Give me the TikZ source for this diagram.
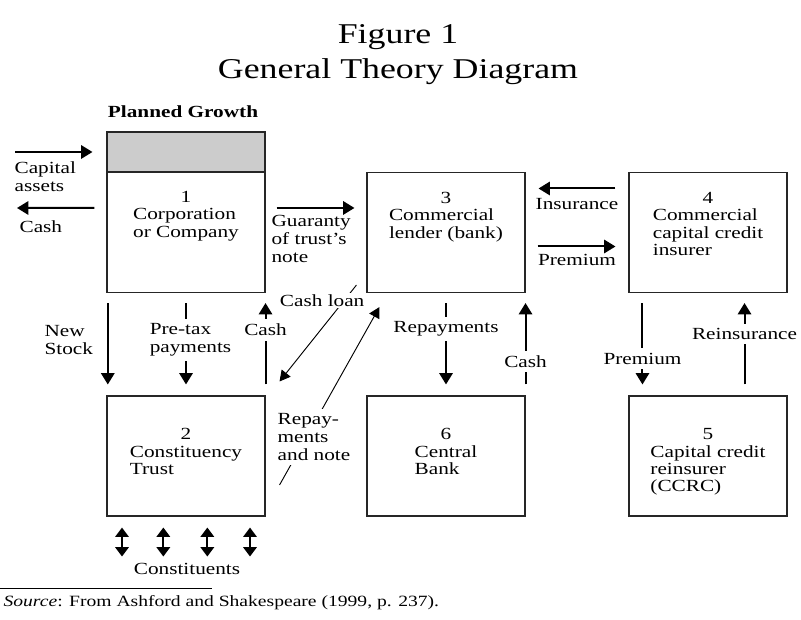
\documentclass[tikz,border=0pt]{standalone}
\usepackage{fontspec}
\setmainfont{Liberation Serif}[FakeStretch=1.25]
\usetikzlibrary{arrows.meta}

\newcommand{\boxlines}[1]{\begin{tabular}[t]{@{}l@{}}#1\end{tabular}}

\begin{document}
\begin{tikzpicture}[x=0.75pt,y=-0.75pt,
    box/.style={draw=black!85,line width=0.8pt,minimum width=118.5pt,
      minimum height=90pt,inner sep=0pt},
    txt/.style={font=\fontsize{12.75}{13}\selectfont,inner sep=0pt,align=center},
    lbl/.style={font=\fontsize{12.75}{13.5}\selectfont,inner sep=1pt,align=left},
    cover/.style={lbl,fill=white,inner xsep=1pt,inner ysep=3.5pt},
    flow/.style={-{Triangle[length=8.5pt,width=10pt]},line width=1.5pt},
    loan/.style={-{Triangle[length=8pt,width=8.5pt]},line width=0.7pt},
    both/.style={{Triangle[length=7pt,width=10pt]}-{Triangle[length=7pt,width=10pt]},
      line width=1.5pt}]
  \useasboundingbox (0,0) rectangle (801,620);

  \node[align=center,inner sep=0pt,font=\fontsize{21.5}{26.25}\selectfont,anchor=north]
    (title) at (398,24.5) {Figure 1\\General Theory Diagram};

  \node[box,fill=black!20,minimum height=30pt] (g) at (186,152) {};
  \node[lbl,anchor=base] (pg) at (183,118) {\textbf{Planned Growth}};

  \node[box] (1) at (186,232.5) {};
  \node[box] (3) at (446,232.5) {};
  \node[box] (4) at (708,232.5) {};
  \node[box] (2) at (186,456) {};
  \node[box] (6) at (446,456) {};
  \node[box] (5) at (708,456) {};

  \node[txt,anchor=north] (t1) at ([yshift=-14.25pt]1.north) {1\\\boxlines{Corporation\\or Company}};
  \node[txt,anchor=north] (t3) at ([yshift=-15pt]3.north) {3\\\boxlines{Commercial\\lender (bank)}};
  \node[txt,anchor=north] (t4) at ([yshift=-15pt]4.north) {4\\\boxlines{Commercial\\capital credit\\insurer}};
  \node[txt,anchor=north] (t2) at ([yshift=-24.75pt]2.north) {2\\\boxlines{Constituency\\Trust}};
  \node[txt,anchor=north] (t6) at ([yshift=-24.75pt]6.north) {6\\\boxlines{Central\\Bank}};
  \node[txt,anchor=north] (t5) at ([yshift=-24.75pt]5.north) {5\\\boxlines{Capital credit\\reinsurer\\(CCRC)}};

  % outside -> 1
  \coordinate (ca) at (15,152);
  \coordinate (cc) at (17,208);
  \draw[flow,shorten >=10.5pt] (ca) -- (g);
  \node[lbl,anchor=north west] (cal) at (13,160.5) {Capital\\assets};
  \draw[flow,shorten <=9pt] ([yshift=18.4pt]1.west) -- (cc);
  \node[lbl,anchor=north west] (ccl) at (18,219) {Cash};

  % 1 -> 3
  \draw[flow,shorten <=8.25pt,shorten >=9pt] ([yshift=18.4pt]1.east) -- ([yshift=18.4pt]3.west);
  \node[lbl,anchor=north west] (gl) at (270,213.5) {Guaranty\\of trust's\\note};

  % 3 <-> 4
  \draw[flow,shorten <=9.75pt,shorten >=9.75pt] ([yshift=33pt]4.west) -- ([yshift=33pt]3.east)
    node[lbl,midway,below=6pt] (ins) {Insurance};
  \draw[flow,shorten <=9pt,shorten >=9.75pt] ([yshift=-10.5pt]3.east) -- ([yshift=-10.5pt]4.west)
    node[lbl,midway,below=3.75pt] (pre) {Premium};

  % 1 <-> 2
  \draw[flow,shorten <=7.5pt,shorten >=8.25pt] ([xshift=1pt]1.south west) -- ([xshift=1pt]2.north west);
  \node[lbl,anchor=north west] (ns) at (43,324) {New\\Stock};
  \draw[flow,shorten <=7.5pt,shorten >=8.25pt] (1.south) -- (2.north)
    node[cover,pos=0.46,xshift=3.4pt] (ptx) {Pre-tax\\payments};
  \draw[flow,shorten <=8.25pt,shorten >=7.5pt] (2.north east) -- (1.south east)
    node[cover,pos=0.64] (c21) {Cash};

  % 2 <-> 3
  \draw[loan] ([xshift=-7.5pt,yshift=6pt]3.south west) -- ([xshift=10.5pt,yshift=10.5pt]2.north east)
    node[cover,inner ysep=1pt,pos=0.16,xshift=-16.5pt] (cl) {Cash loan};
  \draw[loan] ([xshift=10.5pt,yshift=-21.75pt]2.east) -- ([xshift=9.75pt,yshift=-10.5pt]3.south west)
    node[cover,pos=0.27,xshift=5.6pt] (rn) {Repay-\\ments\\and note};

  % 3 <-> 6
  \draw[flow,shorten <=7.5pt,shorten >=8.25pt] (3.south) -- (6.north)
    node[cover,pos=0.35] (rep) {Repayments};
  \draw[flow,shorten <=8.25pt,shorten >=7.5pt] (6.north east) -- (3.south east)
    node[cover,pos=0.33] (c63) {Cash};

  % 4 <-> 5
  \draw[flow,shorten <=7.5pt,shorten >=8.25pt] ([xshift=10.5pt]4.south west) -- ([xshift=10.5pt]5.north west)
    node[cover,pos=0.64] (p45) {Premium};
  \draw[flow,shorten <=8.25pt,shorten >=7.5pt] ([xshift=-32.25pt]5.north east) -- ([xshift=-32.25pt]4.south east)
    node[cover,pos=0.6] (rein) {Reinsurance};

  % constituents
  \foreach \dx in {-48pt,-17pt,16pt,48pt}
    \draw[both] ([xshift=\dx,yshift=-8.25pt]2.south) -- ([xshift=\dx,yshift=-30pt]2.south);
  \node[lbl,anchor=base] (cons) at (187,575) {Constituents};

  % source
  \coordinate (fl) at (0,588);
  \coordinate (fr) at (212,588);
  \draw[line width=0.6pt] (fl) -- (fr);
  \node[lbl,anchor=base west,font=\fontsize{11.75}{13}\selectfont] (src) at (2,607)
    {\textit{Source}: From Ashford and Shakespeare (1999, p. 237).};
\end{tikzpicture}
\end{document}
